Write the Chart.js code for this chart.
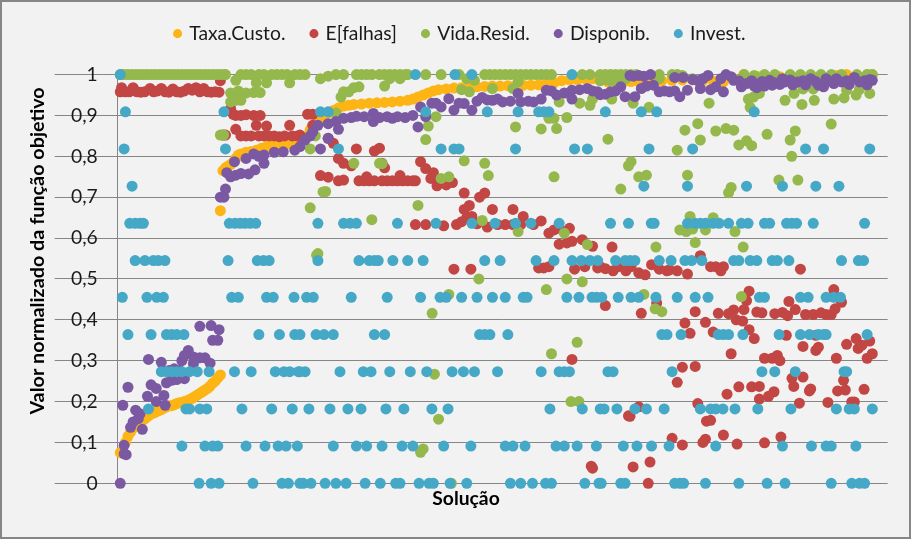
<!DOCTYPE html>
<html><head><meta charset="utf-8">
<style>html,body{margin:0;padding:0;background:#f2f2f2}canvas{display:block}</style>
<script src="https://cdn.jsdelivr.net/npm/chart.js@4"></script>
</head><body><canvas id="c" width="911" height="539"></canvas>
<script>
const seriesNames = ["Taxa.Custo.","E[falhas]","Vida.Resid.","Disponib.","Invest."];
const yTickLabels = ["0","0,1","0,2","0,3","0,4","0,5","0,6","0,7","0,8","0,9","1"];

const taxaCusto = [[1,.075],[2,.08],[3,.1],[4,.115],[5,.125],[6,.135],[7,.14],[8,.145],[9,.15],[10,.155],[11,.16],[12,.165],[13,.17],[14,.172],[15,.175],[16,.178],[17,.18],[18,.184],[19,.187],[20,.19],[21,.19],[22,.192],[23,.195],[24,.197],[25,.198],[26,.2],[27,.202],[28,.205],[29,.208],[30,.212],[31,.216],[32,.22],[33,.224],[34,.228],[35,.232],[36,.238],[37,.245],[38,.25],[39,.258],[40,.265],
[40,.667],[41,.765],[42,.772],[43,.776],[44,.78],[45,.785],[46,.795],[47,.803],[48,.806],[50,.81],[52,.812],[54,.815],[56,.82],[58,.824],[60,.826],[62,.828],[64,.83],[66,.83],[68,.833],[70,.836],[72,.84],[74,.85],[75,.865],[76,.875],[78,.885],[80,.895],[82,.905],[84,.912],[86,.918],[88,.923],[90,.925],[92,.927],[95,.928],[98,.93],[101,.931],[104,.932],[107,.933],[110,.935],[113,.937],[115,.94],[117,.945],[119,.95],[121,.955],[123,.96],[125,.963],[128,.965],[131,.967],[134,.968],[137,.969],[140,.97],[143,.971],[146,.972],[149,.972],[152,.973],[155,.973],[158,.974],[161,.974],[164,.975],[167,.977],[170,.98],[173,.985],[176,.987],[179,.988],[182,.99],[185,.99],[188,.985],[191,.982],[194,.982],[197,.982],[200,.983],[203,.983],[206,.984],[209,.984],[212,.985],[216,.986],[220,.987],[224,.987],[228,.985],[232,.984],[236,.982],[240,.99],[244,1],[250,.995],[258,.995],[266,.996],[274,.997],[280,.998],[284,1],[288,.998],[292,1],[294,1]];

const eFalhas = [[1,.958],[1.5,.968],[3,.958],[4.5,.958],[6,.968],[7.5,.958],[9,.957],[10.5,.958],[12.6,.966],[14,.958],[15.5,.96],[17,.966],[18.5,.958],[20,.957],[21.5,.965],[23,.958],[24.5,.957],[26,.96],[27.5,.966],[29,.962],[30.5,.968],[32,.958],[33.5,.966],[35,.958],[36.5,.957],[38,.958],[39.5,.957],[40,.985],[41,.852],[42,.852],
[44,.917],[45,.903],[46,.9],[48,.9],[50,.902],[53,.9],[55.5,.9],[46,.866],[48,.85],[50,.85],[52,.85],[54,.876],[55,.85],[57,.85],[58,.874],[59,.85],[61,.85],[63,.848],[65,.85],[67,.876],[68,.85],[70,.85],[71,.852],[72,.844],
[74,.903],[76,.903],[76,.876],[82,.844],[84,.832],[93,.818],[100,.813],[102,.82],[86,.795],[88,.783],[91,.777],[79,.753],[82,.749],[86,.74],[88,.742],[94,.74],[96,.74],[97,.75],[98,.74],[100,.74],[103,.783],[104,.772],[103,.74],[105,.74],[107,.74],[109,.74],[110,.753],[111,.74],[113,.74],[115,.74],[116,.74],[118,.787],[120,.77],[123,.76],[122,.746],[124.4,.728],[128,.73],[130.4,.736],
[135,.71],[141,.7],[143,.71],[137,.68],[135,.67],[146,.67],[154,.67],[116,.633],[120,.633],[127,.63],[132,.633],[134,.64],[136,.65],[138,.653],[140,.635],[144,.627],[148,.633],[151,.633],[154,.633],[158,.653],[157,.633],[162,.633],[165,.642],[168,.612],[170,.62],[172,.624],[176,.624],[172,.585],[175,.588],[177,.592],[181,.596],[185,.58],
[131,.524],[137.6,.524],[164,.527],[166,.527],[168,.53],[178,.524],[182,.53],[187,.527],[188,.53],[190,.525],[192.6,.578],[193,.52],[195,.53],[198,.52],[200,.53],[203,.515],[205.5,.51],[208,.535],[211,.524],[214,.52],[215,.522],[218,.52],[222,.512],[227,.557],[231,.53],[233,.53],[235,.52],[236,.53],[266,.524],
[190,.435],[210,.441],[204,.416],[225,.42],[234,.416],[246,.47],[245,.447],[244,.425],[240,.424],[238,.415],[241,.4],[243.5,.397],[221,.392],[229,.394],[223,.367],[232,.37],[246,.376],[248,.354],[239,.317],[249,.419],[251,.417],[256,.415],[259,.418],[261,.41],[264,.425],[261.5,.445],[268,.413],[271,.413],[274,.417],[276,.413],[278,.413],[279.5,.427],[282,.443],[279,.474],
[260.5,.362],[272,.362],[267,.335],[272,.325],[273,.333],[284,.34],[287.7,.354],[288.5,.33],[290,.338],[293,.348],[280,.306],[292,.306],[294,.317],[252,.306],[255,.306],[257,.313],[258,.3],[220,.284],[225,.286],[218,.247],[262.7,.257],[267,.26],[263.4,.237],[269.5,.226],[270,.231],[282.8,.252],[280.5,.226],[283.5,.228],[290.8,.23],
[242,.236],[247,.236],[250,.237],[237.4,.218],[255.7,.224],[253.6,.213],[250,.206],[265.6,.196],[276.7,.198],[286,.199],[287,.199],[226,.195],[203,.187],[199,.165],[199.6,.164],[229.4,.152],[231,.154],
[216,.11],[220,.094],[229,.108],[228,.1],[236,.118],[241.3,.096],[252,.099],[258.4,.113],[207.4,.052],[200.8,.04],[206.7,0],[177,.303],[184.5,.042],[185,.037]];

const vidaResid = [[1,1],[2.5,1],[4,1],[5.5,1],[7,1],[8.5,1],[10,1],[11.5,1],[13,1],[14.5,1],[16,1],[17.5,1],[19,1],[20.5,1],[22,1],[23.5,1],[25,1],[26.5,1],[28,1],[29.5,1],[31,1],[32.5,1],[34,1],[35.5,1],[37,1],[38.5,1],[40,1],[41.5,1],[42,1],[46,.986],[48,1],[50,1],[52,1],[54,.98],[55,1],[58,.98],[57,1],[60,1],[62,1],[64,1],[66,1],[67,.98],[69,1],[71,1],[73,1],
[44,.955],[47,.96],[50,.955],[53,.956],[55.5,.956],[44,.933],[46,.937],[48,.937],[40,.852],[41.3,.852],
[79,.99],[82,.996],[85,1],[88,1],[93,1],[95,1],[97,1],[99,1],[102,1],[104,1],[106,1],[106,.99],[108,1],[110,1],[110,.99],[112,1],[113,1],[120,1],[126,1],[133,1],[136,.99],[139,.986],[143,1],[145,1],[147,1],[149,1],[151,1],[153,1],[155,1],[157,1],[159,1],[161,1],[163,1],[165,1],[167,1],[169,1],[156,.982],[181,1],[184,1],[188,1],[188,.985],[190,1],[190,.988],[192,1],[192,.985],[194,1],[194,.985],[196,1],[196,.985],[198,1],[198,.99],[200,1],[202,1],[211,1],[211,.99],[216,1],[218,1],[220,.998],[224,.99],[228,.99],[244,1],[248,.998],[252,1],[256,1],[262,1],[266,1],[270,1],[274,1],[278,1],[282,1],[288,1],[292,1],[294,1],
[87,.945],[88,.958],[90,.958],[92,.968],[94,.97],[104,.972],[134,.963],[137,.958],[146,.966],[154,.966],[172,.933],[180,.93],[184,.925],[185,.94],[168,.893],[170,.893],[175,.895],[124,.897],[121,.874],[120,.841],[155,.872],[165,.867],[171,.868],[75,.818],[77,.85],[85,.906],
[92,.783],[102,.783],[103,.782],[135,.789],[143,.783],[144.4,.753],[170,.75],[126,.746],[129,.75],[80,.713],[81,.714],[75,.674],[117,.68],[99,.645],[142,.643],[156,.616],[174,.612],[183,.584],[78,.562],[77.5,.558],
[140.7,.5],[167,.474],[175,.5],[181,.493],[129,.462],[122.5,.416],[179,.345],[169,.317],[123.4,.267],[176.6,.2],[179.7,.2],[125,.157],[119,.084],[118,.076],[130,0],
[192.5,.94],[200.8,.93],[207,.92],[230.4,.93],[245.7,.94],[247.7,.945],[250,.954],[246.4,.92],[260,.937],[263.5,.954],[266.6,.927],[271.4,.937],[279,.94],[283,.943],[287.7,.95],[293,.954],[284,.962],[289,.964],[267,.965],[271,.965],
[226,.88],[221,.864],[233,.862],[237,.868],[240,.864],[191,.842],[227,.84],[218,.815],[242,.828],[245,.838],[247,.826],[253,.854],[264,.862],[262,.84],[278,.879],[262.6,.8],[200,.787],[199,.777],[206,.754],[203,.75],[222,.754],[196,.72],[239,.724],[238,.711],[257.6,.742],[265,.742],
[223,.653],[232,.65],[219,.62],[221.5,.616],[224,.622],[229,.62],[240.5,.616],[225,.589],[209.7,.578],[243.7,.578],[205,.462],[209.4,.427],[212,.42],[243,.457]];

const disponib = [[1,0],[2.5,.072],[3.3,.07],[2.5,.093],[2,.191],[4,.235],[5,.137],[6,.15],[7,.179],[8.7,.17],[8,.158],[9.6,.132],[11.6,.213],[13,.241],[15,.232],[18,.215],[15,.2],[18.5,.191],[12,.303],[17,.296],[19,.246],[21,.252],[23,.254],[26,.256],[22,.28],[20,.276],[24,.276],[25,.3],[27.5,.325],[26,.313],[29.5,.309],[29.5,.293],[32,.307],[34,.307],[36,.294],[32,.384],[36.4,.386],[39.5,.376],[37,.35],[39,.35],
[40,.7],[41.4,.7],[42,.72],[42.5,.76],[44,.75],[45.5,.787],[46,.754],[48,.758],[51,.757],[53.5,.767],[50,.795],[53,.806],[57,.783],[57,.803],[55,.8],[61,.81],[64.5,.811],[69,.815],[71,.824],[73,.84],[75,.85],[76,.86],[78,.876],[82,.88],[86,.866],[82,.844],[79,.818],
[85,.885],[88,.893],[91,.895],[93,.898],[96,.897],[99.6,.905],[99.6,.885],[102,.895],[105,.897],[107,.893],[109,.897],[112,.895],[115,.9],[117,.872],[118,.921],[120,.897],[122.4,.93],[124,.93],[126,.921],[129,.941],[131,.913],[133,.93],[135,.929],[138,.913],[140,.935],[142,.944],[144,.938],[146,.937],[148,.94],[150,.933],[153,.935],[156,.954],[157,.933],[160,.935],[162,.933],[165,.94],[167,.962],[169,.96],[171,.95],[174,.955],[177,.962],[177,.94],[180,.963],[183,.966],[185,.96],[187,.958],
[188,.951],[190,.952],[192,.958],[194,.96],[196,.97],[197.7,.946],[201.5,.946],[199.6,.998],[201,.996],[203,.998],[205,.996],[207.6,1],[204,.966],[206,.972],[208.7,.974],[211,.958],[213,.96],[215,.958],[217,.96],[219,.946],[217,.993],[220.3,.993],[222,.962],[224,.988],[226,.985],[227,.966],[228,.99],[230,.998],[231,.963],[233,.97],[236,.958],[235,.99],[237,1],[239,.995],[240,.986],[242,.985],[243,.97],[245,.978],[247,.985],[248,.972],[249,.968],[251,.983],[252,.972],[254,.986],[255,.974],[256,.98],[258,.976],[259,.99],[260,.982],[262,.987],[263,.975],[265,.982],[267,.985],[268,.975],[270,.99],[272,.983],[273,.974],[275,.97],[276,.99],[277,.985],[279,.978],[280,.99],[282,.982],[284,.985],[285,.976],[287,.993],[289,.982],[291,.985],[292,.975],[293,.988],[294,.986]];

const investLevels = [1,.909,.818,.727,.636,.545,.455,.364,.273,.182,.091,0];
const investSolutions = [
[1,116,131.4,138,177],
[3,41.4,79,82,120,144,156,164,166,168,190,204,210,248],
[2.5,42,86,126,131,133,155,178,183,207,224,268,275,293],
[5.6,205,222,245,259,272,281],
[4.7,6.8,8.7,10,43.5,45.7,47.7,49.6,51.6,53.8,78,88,90.5,93,109,124,138,147,155,161,172,192,199,207.9,209,222,225,227,229,232,234.3,238,243,245.6,252,254,260.6,262.6,264.5,271,291],
[6.8,10.6,13.9,15.8,18.4,43,54.4,56.8,59,78,94,98,100,101.5,107.2,113,119,143,149,163,170,177,180.6,184,187,194,197.7,199.6,201.5,211,215.6,221,223.6,227.6,240,242,246.4,249,255,257,261.5,282,288.6,290.6],
[1.8,11.4,15.2,17.8,44.4,47,58,60.6,68.7,73.6,76.2,91,105,118,125.6,128,134,140,146,151,158,159.5,175,179.7,184.8,186.6,188.6,195,200,203,209.7,218,225,230,250,252,266,269,276,279,281.6],
[4,13,19,21,23,25.8,55,63,69,71,77.3,80.4,84,100,104,141,143,145,152,212,214,219.5,234,236,238,243.6,257.7,266,269.5,273,275,276,292],
[17,19,21,23,25,28,31,35.6,45.5,52,61.4,64.8,67,70.4,71,73,86.6,95.7,98.7,106,114,120.4,130.3,134.7,139,148,165,172,174,176,191,193,216,251,256,264,283,284],
[12,26.6,28,32,34.7,48.4,60,68,74.5,82.7,89.7,94.8,104.5,111.5,122.4,128.7,168.4,181,188,189.5,194.5,201.5,206,212.9,227,231,233,235.8,240.5,249.4,262.3,280,285,287,294],
[25,34,37,39,50,57.4,62.5,65.6,70,84,93,97,103,110.8,115,127,137.6,151,154,158.7,170.8,174,179,186.5,197,202.3,208,214.8,233,259,270.3,276,278,287.6],
[31.7,36.4,39.5,52.7,64,66.5,71,72.3,75.3,80.8,85,89,96.4,102.3,108.3,110,117.4,121.3,123,129.5,136,153,157,161.6,166.7,169,182,187.5,188.4,196,197.7,217,219,220.5,229,242,253,260,278,286,289,291]
];
const invest = investSolutions.flatMap((list, i) => list.map(s => [s, investLevels[i]]));

const seriesColors = ["#FDB515","#C24643","#95B84C","#7B59A2","#44A8C6"];
const allSeries = [taxaCusto, eFalhas, vidaResid, disponib, invest];

const uiFont = "Lato, 'Open Sans', sans-serif";
const axisTitles = {
  x: {text:"Solução", cx:466, cy:499, size:19.3},
  y: {text:"Valor normalizado da função objetivo", cx:38, cy:251, size:19.8}
};

const framePlugin = {
  id:"frame",
  beforeLayout(chart){
    const l = chart.legend;
    if(l && !l.__extra){
      const fit = l.fit;
      l.fit = function(){ fit.call(this); this.height += 21.3; };
      l.__extra = true;
    }
  },
  beforeDraw(chart){
    const c = chart.ctx;
    c.save();
    c.fillStyle = "#868686";
    c.fillRect(0,0,911,539);
    c.fillStyle = "#f2f2f2";
    c.fillRect(2,2,907,535);
    c.restore();
  },
  afterDraw(chart){
    const c = chart.ctx;
    c.save();
    c.fillStyle = "#000";
    c.textAlign = "center";
    c.textBaseline = "middle";
    c.font = "bold " + axisTitles.x.size + "px " + uiFont;
    c.fillText(axisTitles.x.text, axisTitles.x.cx, axisTitles.x.cy);
    c.font = "bold " + axisTitles.y.size + "px " + uiFont;
    c.translate(axisTitles.y.cx, axisTitles.y.cy);
    c.rotate(-Math.PI/2);
    c.fillText(axisTitles.y.text, 0, 0);
    c.restore();
  }
};

new Chart(document.getElementById("c"), {
  type:"scatter",
  data:{datasets: seriesNames.map((name,i)=>({
    label:name,
    data: allSeries[i].map(p=>({x:p[0],y:p[1]})),
    backgroundColor: seriesColors[i],
    borderColor: seriesColors[i],
    borderWidth:0,
    pointRadius:5.5,
    pointHoverRadius:5.5,
    clip:false,
    order: seriesNames.length - i
  }))},
  options:{
    responsive:false,
    animation:false,
    events:[],
    layout:{padding:{left:33.3,right:23.3,top:-2.5,bottom:0}},
    plugins:{
      tooltip:{enabled:false},
      legend:{
        display:true,position:"top",align:"center",
        labels:{usePointStyle:true,pointStyle:"circle",boxWidth:4,boxHeight:6.4,padding:26.5,
          color:"#1a1a1a",font:{family:uiFont,size:19.3},
          sort:(a,b)=>a.datasetIndex-b.datasetIndex}
      }
    },
    scales:{
      x:{type:"linear",min:0,max:300,
        grid:{display:false},border:{display:false},ticks:{display:false},
        afterFit(s){s.height=55.7;}},
      y:{type:"linear",min:0,max:1,
        afterBuildTicks(s){s.ticks=yTickLabels.map((_,i)=>({value:i/10}));},
        grid:{color:"#868686",lineWidth:1,tickLength:63,tickColor:"#868686"},
        border:{display:true,color:"#868686",width:1},
        ticks:{padding:-43,color:"#1a1a1a",font:{family:uiFont,size:19.3},
          callback(v){return yTickLabels[Math.round(v*10)];}},
        afterFit(s){s.width=84.4;}}
    }
  },
  plugins:[framePlugin]
});
</script></body></html>
